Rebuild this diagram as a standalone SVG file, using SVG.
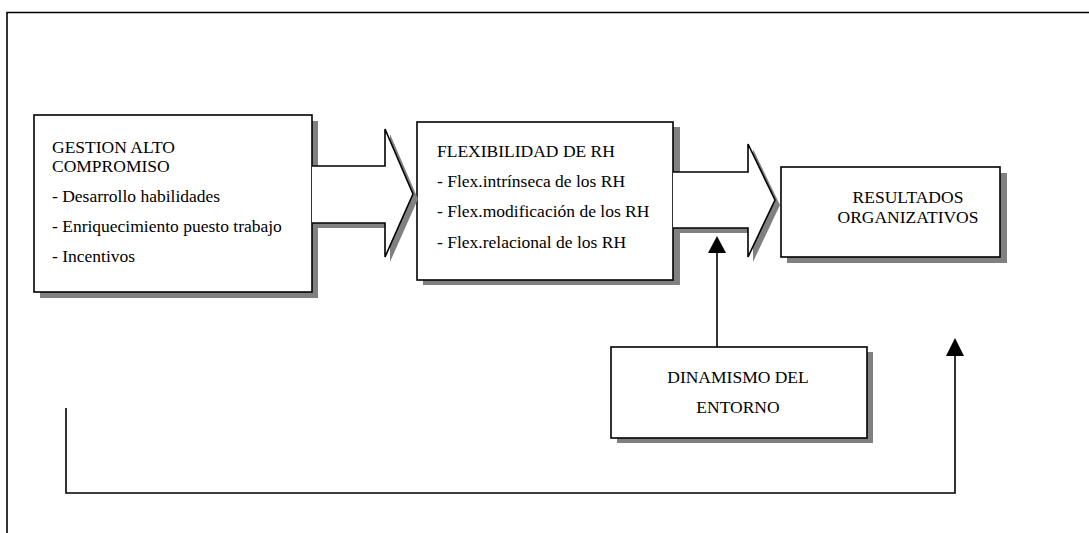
<svg xmlns="http://www.w3.org/2000/svg" width="1089" height="533" viewBox="0 0 1089 533">
  <defs>
    <style>
      .frame { fill: none; stroke: #000; stroke-width: 1.6; }
      .shadow { fill: #808080; stroke: none; }
      .box { fill: #fff; stroke: #000; stroke-width: 1.6; }
      .block { fill: #fff; stroke: #000; stroke-width: 1.6; stroke-linejoin: miter; }
      .link { fill: none; stroke: #000; stroke-width: 1.6; }
      .label { font-family: 'Liberation Serif', 'DejaVu Serif', serif; font-size: 17.5px; fill: #000; }
      .mid { text-anchor: middle; }
    </style>
  </defs>

  <rect width="1089" height="533" fill="#fff"/>

  <!-- page frame -->
  <path class="frame" d="M7,533 V12.5 H1089"/>

  <!-- GESTION ALTO COMPROMISO -->
  <g id="gestion">
    <rect class="shadow" x="40" y="121" width="278" height="177"/>
    <rect class="box" x="34" y="115" width="278" height="177"/>
    <text class="label" x="52" y="153">GESTION ALTO</text>
    <text class="label" x="52" y="172">COMPROMISO</text>
    <text class="label" x="52" y="202">- Desarrollo habilidades</text>
    <text class="label" x="52" y="232">- Enriquecimiento puesto trabajo</text>
    <text class="label" x="52" y="262">- Incentivos</text>
  </g>

  <!-- FLEXIBILIDAD DE RH -->
  <g id="flexibilidad">
    <rect class="shadow" x="423" y="127" width="257" height="158"/>
    <rect class="box" x="417" y="122" width="256" height="158"/>
    <text class="label" x="437" y="157">FLEXIBILIDAD DE RH</text>
    <text class="label" x="437" y="187">- Flex.intrínseca de los RH</text>
    <text class="label" x="437" y="217">- Flex.modificación de los RH</text>
    <text class="label" x="437" y="248">- Flex.relacional de los RH</text>
  </g>

  <!-- RESULTADOS ORGANIZATIVOS -->
  <g id="resultados">
    <rect class="shadow" x="787" y="173" width="220" height="90"/>
    <rect class="box" x="781" y="167" width="219" height="90"/>
    <text class="label mid" x="908" y="203">RESULTADOS</text>
    <text class="label mid" x="908" y="223">ORGANIZATIVOS</text>
  </g>

  <!-- DINAMISMO DEL ENTORNO -->
  <g id="dinamismo">
    <rect class="shadow" x="617" y="352" width="256" height="91"/>
    <rect class="box" x="611" y="347" width="256" height="91"/>
    <text class="label mid" x="738" y="383">DINAMISMO DEL</text>
    <text class="label mid" x="738" y="413">ENTORNO</text>
  </g>

  <!-- connectors -->
  <g id="connectors">
    <!-- block arrow: gestion to flexibilidad -->
    <path class="shadow" d="M317,171 H390 V134 L418,199 L390,262 V228 H317 Z"/>
    <path class="block" d="M312,166 H385 V129 L413,194 L385,257 V223 H312"/>
    <!-- block arrow: flexibilidad to resultados -->
    <path class="shadow" d="M678,177 H753 V149 L780,205 L753,262 V233 H678 Z"/>
    <path class="block" d="M673,172 H748 V144 L775,200 L748,257 V228 H673"/>
    <!-- dinamismo acting on the flexibilidad arrow -->
    <path class="link" d="M717,347 V253"/>
    <path d="M708,253 L717,236 L726,253 Z" fill="#000"/>
    <!-- feedback loop to resultados -->
    <path class="link" d="M66,408 V493 H955 V356"/>
    <path d="M946,356 L955,338 L964,356 Z" fill="#000"/>
  </g>
</svg>
